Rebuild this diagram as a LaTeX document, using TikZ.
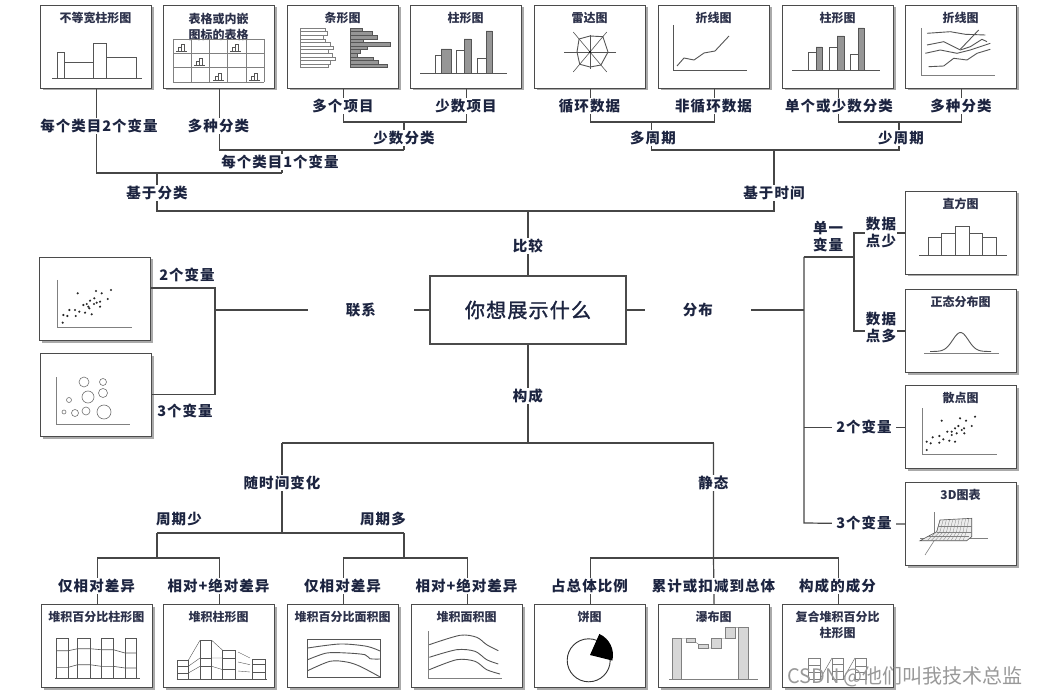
\documentclass[tikz,border=0pt]{standalone}
\usepackage{fontspec}
\setmainfont{Noto Sans CJK SC}
\newfontfamily\labf{Noto Sans CJK SC}[LetterSpace=7]
\newfontfamily\mainf{Noto Sans CJK SC}[LetterSpace=6, FakeBold=1.6]
\usetikzlibrary{calc}
\definecolor{labc}{RGB}{28,36,64}
\definecolor{linec}{RGB}{70,70,70}
\definecolor{boxc}{RGB}{75,75,75}
\definecolor{shc}{RGB}{170,170,170}
\definecolor{chc}{RGB}{85,85,85}
\definecolor{grayfill}{RGB}{150,150,150}
\definecolor{lightfill}{RGB}{215,215,215}
\definecolor{titc}{RGB}{45,50,75}
\tikzset{
 conn/.style={draw=linec, line width=1.2pt},
 lab/.style={fill=white, inner sep=1pt, text=labc, font=\labf\bfseries\fontsize{14.5}{17}\selectfont, align=center},
 cbox/.style={draw=boxc, line width=1.2pt, fill=white, minimum width=111pt, minimum height=83pt, inner sep=0pt},
 ctitle/.style={text=titc, font=\bfseries\fontsize{12}{15.5}\selectfont, align=center, inner sep=0pt},
 ch/.style={draw=chc, line width=0.6pt},
 chl/.style={draw=chc, line width=0.9pt},
 dot/.style={fill=black!85},
}
\newcommand\mkbox[5]{%
  \fill[shc] (#2+2.5,#3+2.5) rectangle (#2+113.5,#3+85.5);
  \node[cbox, anchor=north west] (#1) at (#2,#3) {};
  \node[ctitle] (#1t) at (#2+55.5,#3+#5) {#4};
}
\newcommand\minic[2]{\draw[ch,line width=0.4pt] (#1,#2) -- (#1+11,#2) (#1+2,#2) rectangle (#1+5,#2-4) (#1+5,#2) rectangle (#1+8,#2-7);}
\begin{document}
\begin{tikzpicture}[x=1pt,y=-1pt]
\useasboundingbox[fill=white] (0,0) rectangle (1037,695);

% ---------- boxes ----------
\mkbox{t1}{40}{5}{不等宽柱形图}{13}
\mkbox{t2}{163}{5}{表格或内嵌\\图标的表格}{22}
\mkbox{t3}{287}{5}{条形图}{13}
\mkbox{t4}{410}{5}{柱形图}{13}
\mkbox{t5}{534}{5}{雷达图}{13}
\mkbox{t6}{658}{5}{折线图}{13}
\mkbox{t7}{782}{5}{柱形图}{13}
\mkbox{t8}{905}{5}{折线图}{13}
\mkbox{l1}{39}{257}{}{13}
\mkbox{l2}{40}{353}{}{13}
\mkbox{r1}{905}{191}{直方图}{13}
\mkbox{r2}{905}{289}{正态分布图}{13}
\mkbox{r3}{905}{385}{散点图}{13}
\mkbox{r4}{905}{482}{3D图表}{13}
\mkbox{b1}{41}{604}{堆积百分比柱形图}{13}
\mkbox{b2}{163}{604}{堆积柱形图}{13}
\mkbox{b3}{287}{604}{堆积百分比面积图}{13}
\mkbox{b4}{411}{604}{堆积面积图}{13}
\mkbox{b5}{534}{604}{饼图}{13}
\mkbox{b6}{658}{604}{瀑布图}{13}
\mkbox{b7}{782}{604}{复合堆积百分比\\柱形图}{21}

\node[draw=boxc, line width=1.2pt, minimum width=196pt, minimum height=68pt, inner sep=0pt,
      font=\mainf\fontsize{20}{24}\selectfont, text=labc] (main) at (528,310) {你想展示什么};

% ---------- box contents ----------
\begin{scope}[shift={(40,5)}]
 \draw[ch] (12,73) -- (102,73);
 \draw[ch] (17,73) rectangle (24,47) (24,73) rectangle (53,57) (53,73) rectangle (66,38) (66,73) rectangle (96,52);
\end{scope}
\begin{scope}[shift={(163,5)}]
 \foreach \i in {0,...,5} \draw[ch,draw=gray] ({10+\i*18.2},34) -- ({10+\i*18.2},77);
 \foreach \j in {0,...,3} \draw[ch,draw=gray] (10,{34+\j*14.333}) -- (101,{34+\j*14.333});
 \minic{13}{46}\minic{67}{46}\minic{31}{60}\minic{50}{75}\minic{86}{75}
\end{scope}
\begin{scope}[shift={(287,5)}]
 \foreach \e [count=\i] in {38,40,36,38,43,46,41,45,48,43,41}
   \draw[draw=gray, fill=white, line width=0.4pt] (13,{23+(\i-1)*3.6}) rectangle (\e,{23+\i*3.6});
 \foreach \e [count=\i] in {75,85,90,76,103,80,73,70,86,91,100}
   \draw[draw=chc, fill=grayfill, line width=0.4pt] (63,{23+(\i-1)*3.6}) rectangle (\e,{23+\i*3.6});
\end{scope}
\begin{scope}[shift={(410,5)}]
 \draw[ch] (10,68) -- (97,68);
 \draw[ch, fill=white] (25,68) rectangle (31,50) (46,68) rectangle (54,45) (67,68) rectangle (76,53);
 \draw[ch, fill=grayfill] (31,68) rectangle (41,44) (54,68) rectangle (61,34) (76,68) rectangle (82,26);
\end{scope}
\begin{scope}[shift={(534,5)}]
 \foreach \a in {0,50,130} \draw[ch] ($(56,47)+(\a:26)$) -- ($(56,47)+(\a+180:26)$);
 \draw[ch] (56,30) -- (56,64);
 \draw[chl] ($(56,47)+(0:18)$) -- ($(56,47)+(50:17)$) -- ($(56,47)+(90:15)$) -- ($(56,47)+(130:16)$)
   -- ($(56,47)+(180:13)$) -- ($(56,47)+(230:17)$) -- ($(56,47)+(270:16)$) -- ($(56,47)+(310:20)$) -- cycle;
 \fill (56,47) circle (1.2);
\end{scope}
\begin{scope}[shift={(658,5)}]
 \draw[ch] (15,20) -- (15,65) -- (89,65);
 \draw[chl] (19,61) -- (26,53) -- (36,55) -- (46,48) -- (57,46) -- (71,31);
\end{scope}
\begin{scope}[shift={(782,5)}]
 \draw[ch] (10,65) -- (98,65);
 \draw[ch, fill=white] (26,65) rectangle (34,47) (47,65) rectangle (55,42) (68,65) rectangle (76,49);
 \draw[ch, fill=grayfill] (34,65) rectangle (40,42) (55,65) rectangle (62,31) (76,65) rectangle (82,23);
\end{scope}
\begin{scope}[shift={(905,5)}]
 \draw[ch,draw=gray] (16,23) -- (16,70) -- (90,70);
 \draw[chl] (22,28.3) -- (45.3,26.7) -- (60.3,29.3) -- (80.3,30);
 \draw[chl] (55.3,44.3) -- (73.7,25);
 \draw[chl] (22,40) -- (38.7,36.7) -- (55.3,45) -- (65.3,41.7) -- (77,34.3) -- (82,36.7);
 \draw[chl] (20.3,48.3) -- (35.3,45) -- (52,48.3) -- (65.3,45) -- (85.3,38.3);
 \draw[chl] (23.7,61.7) -- (38.7,61) -- (48.7,53.3) -- (62,55) -- (72,48.3) -- (85.3,44.3);
\end{scope}
% left
\begin{scope}[shift={(39,257)}]
 \draw[ch,draw=gray] (18.7,23) -- (18.7,70) -- (92.7,70);
 \foreach \p in {(38.7,36.3),(57,34),(62.7,36.3),(72,33),(55.3,41.3),(51,43.7),(61,44.7),(68.7,42),(47.7,47),(44.3,48),(49.3,49.7),(55,47),(57.7,45.7),(61,49.7),(36,53),(30.3,53),(40.3,54.7),(46,55.7),(24.3,58),(28.3,59),(36.7,59),(52.7,57.3),(23.7,65.7),(50.3,51.3)}
   \fill[dot] \p circle (1.2);
\end{scope}
\begin{scope}[shift={(40,353)}]
 \draw[ch,draw=gray] (16,24) -- (16,71) -- (90,71);
 \foreach \c/\r in {{(44,29)}/5,{(63,29)}/3.5,{(48,44)}/6,{(63,40)}/4.5,{(29,47)}/2.5,{(24,59)}/2,{(35,60)}/3.5,{(46,58)}/4,{(64,59)}/7}
   \draw[ch,draw=gray!90!black] \c circle (\r);
\end{scope}
% right
\begin{scope}[shift={(905,191)}]
 \draw[ch] (14,64) -- (102,64);
 \foreach \t [count=\i] in {46,42,35,42,46}
   \draw[ch] ({23+(\i-1)*13.6},64) rectangle ({23+\i*13.6},\t);
\end{scope}
\begin{scope}[shift={(905,289)}]
 \draw[ch,draw=gray] (19,64) -- (94,64);
 \draw[chl] plot[domain=25:86, samples=50, smooth] (\x, {62.5-19*exp(-((\x-55.5)/11)^2)});
\end{scope}
\begin{scope}[shift={(905,385)}]
 \draw[ch,draw=gray] (17.7,23.3) -- (17.7,69) -- (91.7,69);
 \foreach \p in {(36.7,35.7),(55,33.3),(61,35.7),(70,31.7),(66.7,41),(53.3,41),(50,43.3),(56.7,45),(59,43.3),(46.7,46.7),(42.3,46.7),(51.7,48.3),(59.3,48.3),(46.7,50),(34.3,51),(27.7,52.3),(38.3,54.3),(44.3,55.7),(50,56.7),(21.7,56.7),(25.7,58.3),(34.3,57.7),(21.7,65)}
   \fill[dot] \p circle (1.2);
\end{scope}
\begin{scope}[shift={(905,482)}]
 \draw[ch,draw=gray] (29.3,30) -- (29.3,58);
 \draw[ch,draw=gray] (15,56.3) -- (83.3,56.3);
 \draw[ch,draw=gray] (20,73) -- (34.3,50.7);
 \draw[ch, fill=gray!15] (15,58.7) -- (31.7,49.7) -- (35,38) -- (66.7,36.3) -- (66.7,54.7) -- (61.7,58.7) -- cycle;
 \foreach \k in {0,...,9} \draw[draw=gray, line width=0.3pt] ({35+\k*3.2},{38-\k*0.17}) -- ({31.7+\k*3.3},49.7) -- ({22+\k*4},58.7);
 \draw[draw=gray, line width=0.3pt] (33.3,44) -- (66.7,44) (31.7,49.7) -- (66.7,49.7) (23,54.2) -- (64,54.2);
\end{scope}
% bottom
\begin{scope}[shift={(41,604)}]
 \draw[ch] (14,74.7) -- (99,74.7);
 \foreach \xa/\xb in {15/27.3,36.7/49,60/72.3,84/95.7} \draw[ch] (\xa,34.7) rectangle (\xb,74.7);
 \draw[ch] (15,46.7) -- (27.3,46.7) -- (36.7,44.7) -- (49,44.7) -- (60,45.7) -- (72.3,45.7) -- (84,49) -- (95.7,49);
 \draw[ch] (15,63.3) -- (27.3,63.3) -- (36.7,60.7) -- (49,60.7) -- (60,62.3) -- (72.3,62.3) -- (84,64) -- (95.7,64);
\end{scope}
\begin{scope}[shift={(163,604)}]
 \draw[ch] (13.7,75) -- (103.7,75);
 \draw[ch] (14.3,75) rectangle (25.3,56.3) (37,75) rectangle (48.7,36.3) (59.7,75) rectangle (72,46.3) (89.7,75) rectangle (102,55);
 \draw[ch] (14.3,62.3) -- (25.3,62.3) (14.3,69) -- (25.3,69) (37,54) -- (48.7,54) (37,62.3) -- (48.7,62.3)
   (59.7,54) -- (72,54) (59.7,65.7) -- (72,65.7) (89.7,60.7) -- (102,60.7) (89.7,68) -- (102,68);
 \draw[ch, line width=0.4pt] (25.3,56.3) -- (37,36.3) (25.3,62.3) -- (37,54) (25.3,69) -- (37,62.3)
   (48.7,36.3) -- (59.7,46.3) (48.7,54) -- (59.7,54) (48.7,62.3) -- (59.7,65.7)
   (75,48) -- (87,54) (75,58) -- (87,60.7) (75,67) -- (87,68);
\end{scope}
\begin{scope}[shift={(287,604)}]
 \draw[ch] (20.7,35.7) rectangle (93.7,73.3);
 \draw[chl] plot[smooth] coordinates {(20.7,44) (53,40) (79.7,42.3) (93.7,47.3)};
 \draw[chl] plot[smooth] coordinates {(20.7,55.7) (39.7,49) (59.7,49) (78,50.7) (83,54.7) (93.7,55)};
 \draw[chl] plot[smooth] coordinates {(20.7,66.7) (43,57.3) (59.7,58) (73,62.3) (93.7,73.3)};
\end{scope}
\begin{scope}[shift={(411,604)}]
 \draw[ch,draw=gray] (17.3,27.3) -- (17.3,74) -- (90.7,74);
 \draw[chl] plot[smooth] coordinates {(18.3,40.7) (49,31.3) (65.7,33.3) (75.7,40.7) (87.3,46.7)};
 \draw[chl] plot[smooth] coordinates {(18.3,53.3) (45.7,45.7) (64,47.3) (75.7,55.7) (87.3,60)};
 \draw[chl] plot[smooth] coordinates {(18.3,65.7) (45.7,55.7) (64,57.3) (75.7,65.7) (89,70)};
\end{scope}
\begin{scope}[shift={(534,604)}]
 \draw[chl, draw=black!80] (54.7,56.3) circle (21.5);
 \fill[black] (56,51) -- ++(-66:23) arc[start angle=-66, end angle=14, radius=23] -- cycle;
\end{scope}
\begin{scope}[shift={(658,604)}]
 \draw[ch,draw=gray] (11.3,75) -- (99.7,75);
 \draw[draw=gray, fill=lightfill, line width=0.5pt] (14.7,34.7) rectangle (23.7,75)
   (28,34.7) rectangle (37.7,38.3) (40.3,40) rectangle (50.3,44) (53.7,34.7) rectangle (63.7,44)
   (67,23.3) rectangle (77,34.7) (80.3,23.3) rectangle (90.3,75);
 \draw[draw=gray, line width=0.4pt] (23.7,34.7) -- (28,34.7) (37.7,38.3) -- (40.3,40) (50.3,44) -- (53.7,44)
   (63.7,34.7) -- (67,34.7) (77,23.3) -- (80.3,23.3);
\end{scope}
\begin{scope}[shift={(782,604)}]
 \draw[ch,draw=gray] (26,54) rectangle (38,75) (50,54) rectangle (61,75) (73,54) rectangle (84,75);
 \draw[ch,draw=gray] (26,61) -- (38,61) (26,68) -- (38,68) (50,60) -- (61,60) (50,67) -- (61,67) (73,62) -- (84,62) (73,68) -- (84,68);
 \draw[ch,draw=gray] (38,75) -- (50,54) (61,75) -- (73,54);
\end{scope}

% ---------- junction coordinates ----------
\coordinate (k1) at (282,173);
\coordinate (k2) at (282,150);
\coordinate (k3) at (404,150);
\coordinate (k4) at (404,122);
\coordinate (k5) at (157,173);
\coordinate (k6) at (157,211);
\coordinate (k7) at (774,211);
\coordinate (k8) at (774,150);
\coordinate (k9) at (651.5,150);
\coordinate (k10) at (651.5,122);
\coordinate (k11) at (899,150);
\coordinate (k12) at (899,122);
\coordinate (kc) at (528,211);
\coordinate (q1) at (215,310);
\coordinate (q2) at (215,288);
\coordinate (q3) at (215,394.5);
\coordinate (d0) at (804,310);
\coordinate (d1) at (804,257);
\coordinate (d2) at (804,523);
\coordinate (d3) at (854,257);
\coordinate (s0) at (528,443);
\coordinate (s1) at (282,443);
\coordinate (s2) at (713.5,443);
\coordinate (s3) at (282,533);
\coordinate (s4) at (157,533);
\coordinate (s5) at (404,533);
\coordinate (s6) at (157,558);
\coordinate (s7) at (404,558);
\coordinate (s8) at (713.5,558);

% ---------- connectors ----------
\draw[conn] (t1.south) |- (k1);
\draw[conn] (t2.south) |- (k3);
\draw[conn] (t3.south) |- (k4) -| (t4.south);
\draw[conn] (k4) -- (k3);
\draw[conn] (k2) -- (k1);
\draw[conn] (k5) -- (k6) -- (k7) -- (k8);
\draw[conn] (t5.south) |- (k10) -| (t6.south);
\draw[conn] (t7.south) |- (k12) -| (t8.south);
\draw[conn] (k10) -- (k9) -- (k11) -- (k12);
\draw[conn] (kc) -- (main.north);

\draw[conn] (main.west) -- (q1);
\draw[conn] (l1.east |- q2) -- (q2) -- (q3) -- (l2.east |- q3);

\draw[conn] (main.east) -- (d0);
\draw[conn] (d1) -- (d2) -- (r4.west);
\draw[conn] (d1) -- (d3);
\draw[conn] (r1.west) -| (d3) |- (r2.west);
\draw[conn] (d1 |- r3.west) -- (r3.west);

\draw[conn] (main.south) -- (s0);
\draw[conn] (s1) -- (s2);
\draw[conn] (s1) -- (s3);
\draw[conn] (s4) -- (s5);
\draw[conn] (s4) -- (s6);
\draw[conn] (s5) -- (s7);
\draw[conn] (b1.north) |- (s6) -| (b2.north);
\draw[conn] (b3.north) |- (s7) -| (b4.north);
\draw[conn] (s2) -- (s8) -- (b6.north);
\draw[conn] (b5.north) |- (s8) -| (b7.north);

% ---------- labels ----------
\node[lab] (a1) at (99,126) {每个类目2个变量};
\node[lab] (a2) at (218.5,126) {多种分类};
\node[lab] (a3) at (343,106) {多个项目};
\node[lab] (a4) at (466,106) {少数项目};
\node[lab] (a5) at (404,138) {少数分类};
\node[lab] (a6) at (280,162) {每个类目1个变量};
\node[lab] (a7) at (157,193) {基于分类};
\node[lab] (a8) at (589.5,106) {循环数据};
\node[lab] (a9) at (713.5,106) {非循环数据};
\node[lab] (a10) at (839,106) {单个或少数分类};
\node[lab] (a11) at (961,106) {多种分类};
\node[lab] (a12) at (653,138) {多周期};
\node[lab] (a13) at (901,138) {少周期};
\node[lab] (a14) at (774,193) {基于时间};
\node[lab] (a15) at (528,246) {比较};
\node[lab, inner xsep=38pt] (a16) at (361,310) {联系};
\node[lab, inner xsep=38pt] (a17) at (698,310) {分布};
\node[lab] (a18) at (528,396) {构成};
\node[lab] (a19) at (187,275) {2个变量};
\node[lab] (a20) at (185,411) {3个变量};
\node[lab] (a21) at (828,237) {单一\\变量};
\node[lab] (a22) at (881,232) {数据\\点少};
\node[lab] (a23) at (881,328) {数据\\点多};
\node[lab, inner xsep=4pt] (a24) at (864,426.5) {2个变量};
\node[lab, inner xsep=4pt] (a25) at (864,523) {3个变量};
\node[lab] (a26) at (282,483) {随时间变化};
\node[lab] (a27) at (179,519) {周期少};
\node[lab] (a28) at (383,519) {周期多};
\node[lab] (a29) at (96.5,586) {仅相对差异};
\node[lab] (a30) at (218.5,586) {相对+绝对差异};
\node[lab] (a31) at (342.5,586) {仅相对差异};
\node[lab] (a32) at (466.5,586) {相对+绝对差异};
\node[lab] (a33) at (713.5,483) {静态};
\node[lab] (a34) at (589.5,586) {占总体比例};
\node[lab] (a35) at (713.5,586) {累计或扣减到总体};
\node[lab] (a36) at (837.5,586) {构成的成分};

% watermark
\node[text=gray!80, font=\fontsize{20}{24}\selectfont, inner sep=0pt] (wm) at (905,677) {CSDN @他们叫我技术总监};
\end{tikzpicture}
\end{document}
